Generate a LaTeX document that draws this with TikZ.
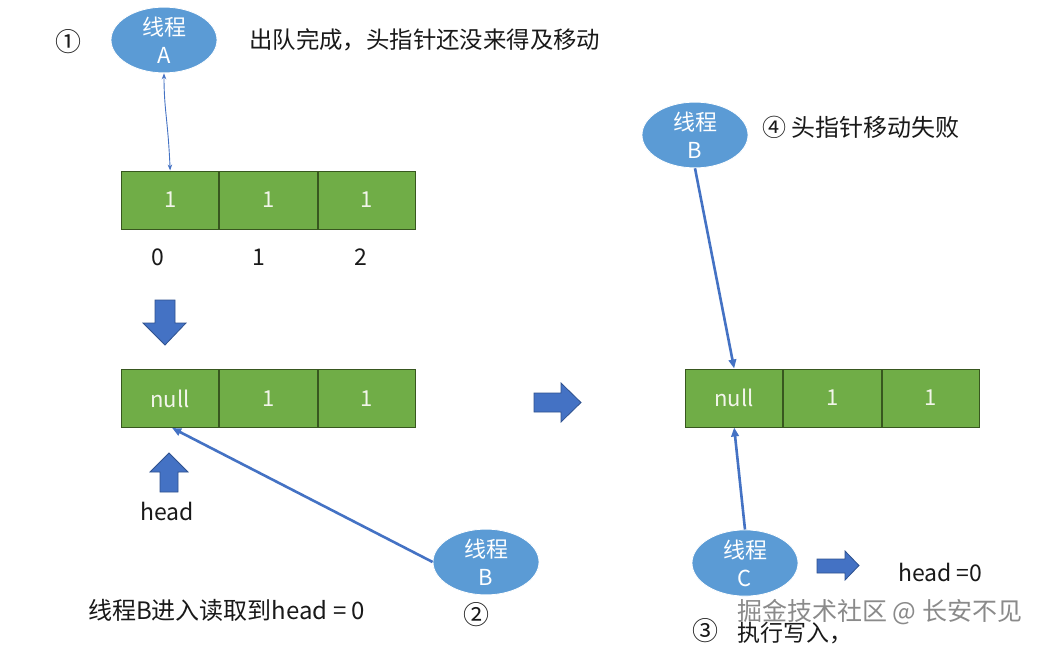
\documentclass[tikz,border=0pt]{standalone}
\usepackage{fontspec}
\setmainfont{Noto Sans CJK SC}
\usetikzlibrary{arrows.meta,shapes.geometric}
\definecolor{ellblue}{HTML}{5B9BD5}
\definecolor{lineblue}{HTML}{4472C4}
\definecolor{arrblue}{HTML}{4472C4}
\definecolor{arrborder}{HTML}{2F528F}
\definecolor{cellgreen}{HTML}{70AD47}
\definecolor{cellborder}{HTML}{38571F}
\definecolor{celltext}{HTML}{F2F5EA}
\definecolor{wmgray}{HTML}{8A8A8A}
\begin{document}
\begin{tikzpicture}[x=1pt,y=-1pt,
 thread/.style={ellipse, fill=ellblue, draw=white, line width=0.8pt, minimum width=106pt, minimum height=62pt, inner sep=0pt, text=white, font=\fontsize{22}{28}\selectfont, align=center},
 cell/.style={rectangle, fill=cellgreen, draw=cellborder, line width=1pt, minimum width=97.3pt, minimum height=58pt, inner sep=0pt, text=celltext, font=\fontsize{22}{25}\selectfont, anchor=west},
 lbl/.style={font=\fontsize{23}{26}\selectfont, inner sep=0pt, text=black!90},
 circ/.style={font=\fontsize{26}{28}\selectfont, inner sep=0pt, text=black!90},
 ptr/.style={draw=lineblue, line width=2.6pt, -{Triangle[length=9pt,width=7.5pt]}},
 blockarrow/.style={fill=arrblue, draw=arrborder, line width=0.8pt}
]
\useasboundingbox (0,0) rectangle (1042,648);
\fill[white] (0,0) rectangle (1042,648);

% ---------- step 1 ----------
\node[circ] (n1) at (68,42) {①};
\node[thread] (tA) at (164,40) {线程\\A};
\node[lbl, anchor=west, font=\fontsize{23.4}{26}\selectfont] (t1) at (249,40) {出队完成，头指针还没来得及移动};

\node[cell] (a0) at (121,200) {1};
\node[cell] (a1) at (a0.east) {1};
\node[cell] (a2) at (a1.east) {1};
\node[lbl] (i0) at (158,257) {0};
\node[lbl] (i1) at (259,257) {1};
\node[lbl] (i2) at (361,257) {2};

\draw[lineblue, line width=0.9pt, {Stealth[length=6pt,width=4.5pt]}-{Stealth[length=6pt,width=4.5pt]}]
  (tA.south) .. controls (164,110) and (168,120) .. (a0.north);

% down block arrow
\path[blockarrow] (155,300) -- (175,300) -- (175,323) -- (186,323) -- (165,345) -- (143,323) -- (155,323) -- cycle;

% ---------- step 2 ----------
\node[cell] (b0) at (121,398.5) {null};
\node[cell] (b1) at (b0.east) {1};
\node[cell] (b2) at (b1.east) {1};

% up block arrow
\path[blockarrow] (160,492) -- (178,492) -- (178,472) -- (188,472) -- (169,453) -- (150,472) -- (160,472) -- cycle;
\node[lbl] (hd) at (167,511) {head};

\node[thread] (tB2) at (486,562) {线程\\B};
\draw[ptr] (tB2.west) -- ([xshift=2pt]b0.south);
\node[circ] (n2) at (476,615) {②};
\node[lbl, anchor=west, font=\fontsize{24}{26}\selectfont] (t2) at (88,610) {线程B进入读取到head = 0};

% right block arrow
\path[blockarrow] (534,393) -- (561,393) -- (561,383) -- (581,402.5) -- (561,422) -- (561,412) -- (534,412) -- cycle;

% ---------- steps 3 & 4 ----------
\node[cell] (c0) at (685,398) {null};
\node[cell] (c1) at (c0.east) {1};
\node[cell] (c2) at (c1.east) {1};

\node[thread] (tB) at (695,135) {线程\\B};
\draw[ptr] (tB.south) -- (c0.north);
\node[lbl, anchor=west, font=\fontsize{24}{26}\selectfont] (t4) at (762,127) {④ 头指针移动失败};

\node[thread] (tC) at (745,563) {线程\\C};
\draw[ptr] (tC.north) -- (c0.south);

\path[blockarrow] (817,559) -- (845,559) -- (845,551) -- (859,565.5) -- (845,580) -- (845,573) -- (817,573) -- cycle;
\node[lbl, anchor=west] (hd2) at (898,572) {head =0};

\node[circ] (n3) at (705,631) {③};
\node[lbl, anchor=west] (t3) at (737,633) {执行写入，};
\node[lbl, anchor=west, text=wmgray, font=\fontsize{25}{26}\selectfont] (wm) at (737,612) {掘金技术社区 @ 长安不见};
\end{tikzpicture}
\end{document}
